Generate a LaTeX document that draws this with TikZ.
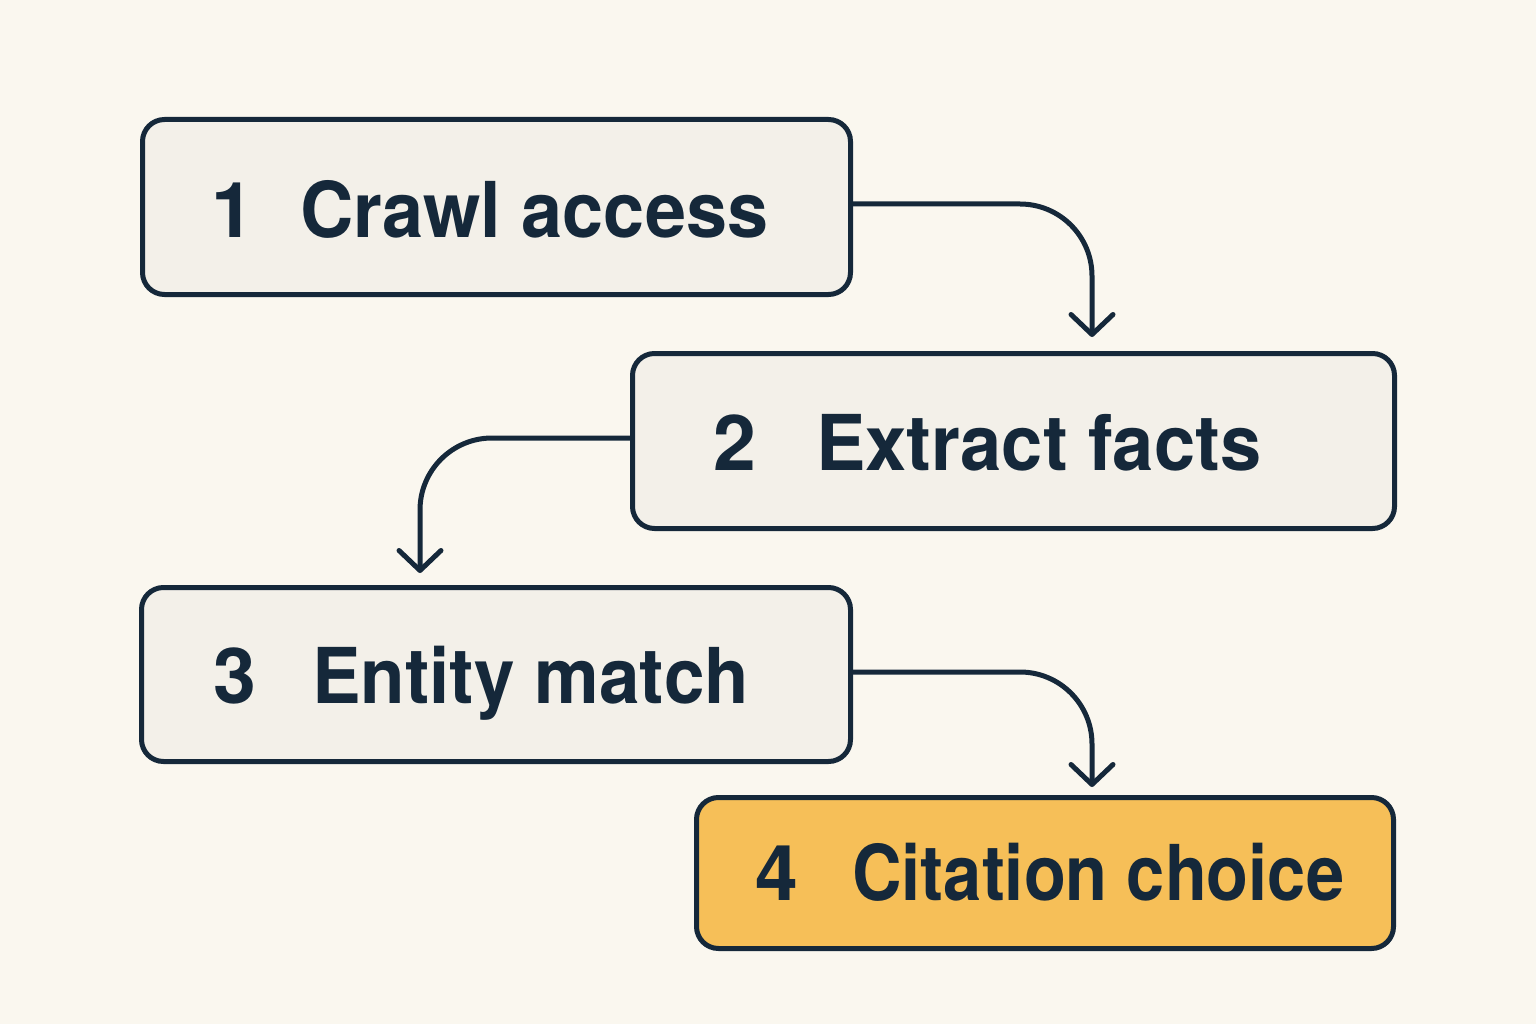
\documentclass[tikz,border=0pt]{standalone}
\usepackage{fontspec}
\setmainfont{TeX Gyre Heros}
\usetikzlibrary{arrows.meta}
\definecolor{bg}{HTML}{FAF7EF}
\definecolor{boxfill}{HTML}{F3F0E9}
\definecolor{ink}{HTML}{15283A}
\definecolor{gold}{HTML}{F6BF58}
\newcommand{\fitlabel}[2]{\resizebox{#1}{\height}{#2}}
\begin{document}
\begin{tikzpicture}[x=1pt,y=-1pt,
  stage/.style={draw=ink, line width=5pt, fill=boxfill, rounded corners=22pt, inner sep=0pt},
  numtxt/.style={anchor=base west, inner sep=0pt, text=ink, font=\fontsize{77}{80}\selectfont\bfseries},
  labtxt/.style={anchor=base west, inner sep=0pt, text=ink, font=\fontsize{77}{80}\selectfont\bfseries},
  flow/.style={draw=ink, line width=5pt, rounded corners=72pt, -{Straight Barb[length=20pt, width=42pt, round]}}]
\fill[bg] (0,0) rectangle (1536,1024);
\useasboundingbox (0,0) rectangle (1536,1024);

\node[stage, minimum width=708pt, minimum height=175pt] (b1) at (496.5,207) {};
\node[stage, minimum width=762pt, minimum height=175pt] (b2) at (1013.5,441) {};
\node[stage, minimum width=709pt, minimum height=174pt] (b3) at (496,674.5) {};
\node[stage, fill=gold, minimum width=697pt, minimum height=151pt] (b4) at (1045,873) {};

\node[numtxt] (n1) at (211,238) {1};
\node[labtxt] (l1) at (300,238) {\fitlabel{468pt}{Crawl access}};
\node[numtxt] (n2) at (713,470) {2};
\node[labtxt] (l2) at (816,470) {\fitlabel{445pt}{Extract facts}};
\node[numtxt] (n3) at (213,703) {3};
\node[labtxt] (l3) at (312,703) {\fitlabel{437pt}{Entity match}};
\node[numtxt] (n4) at (755,900) {4};
\node[labtxt] (l4) at (852,900) {\fitlabel{492pt}{Citation choice}};

\coordinate (t1) at (1092,337);
\coordinate (t2) at (420,573);
\coordinate (t3) at (1092,787);
\draw[flow] ([yshift=3pt]b1.east) -| (t1);
\draw[flow] ([yshift=3pt]b2.west) -| (t2);
\draw[flow] ([yshift=2.5pt]b3.east) -| (t3);
\end{tikzpicture}
\end{document}
